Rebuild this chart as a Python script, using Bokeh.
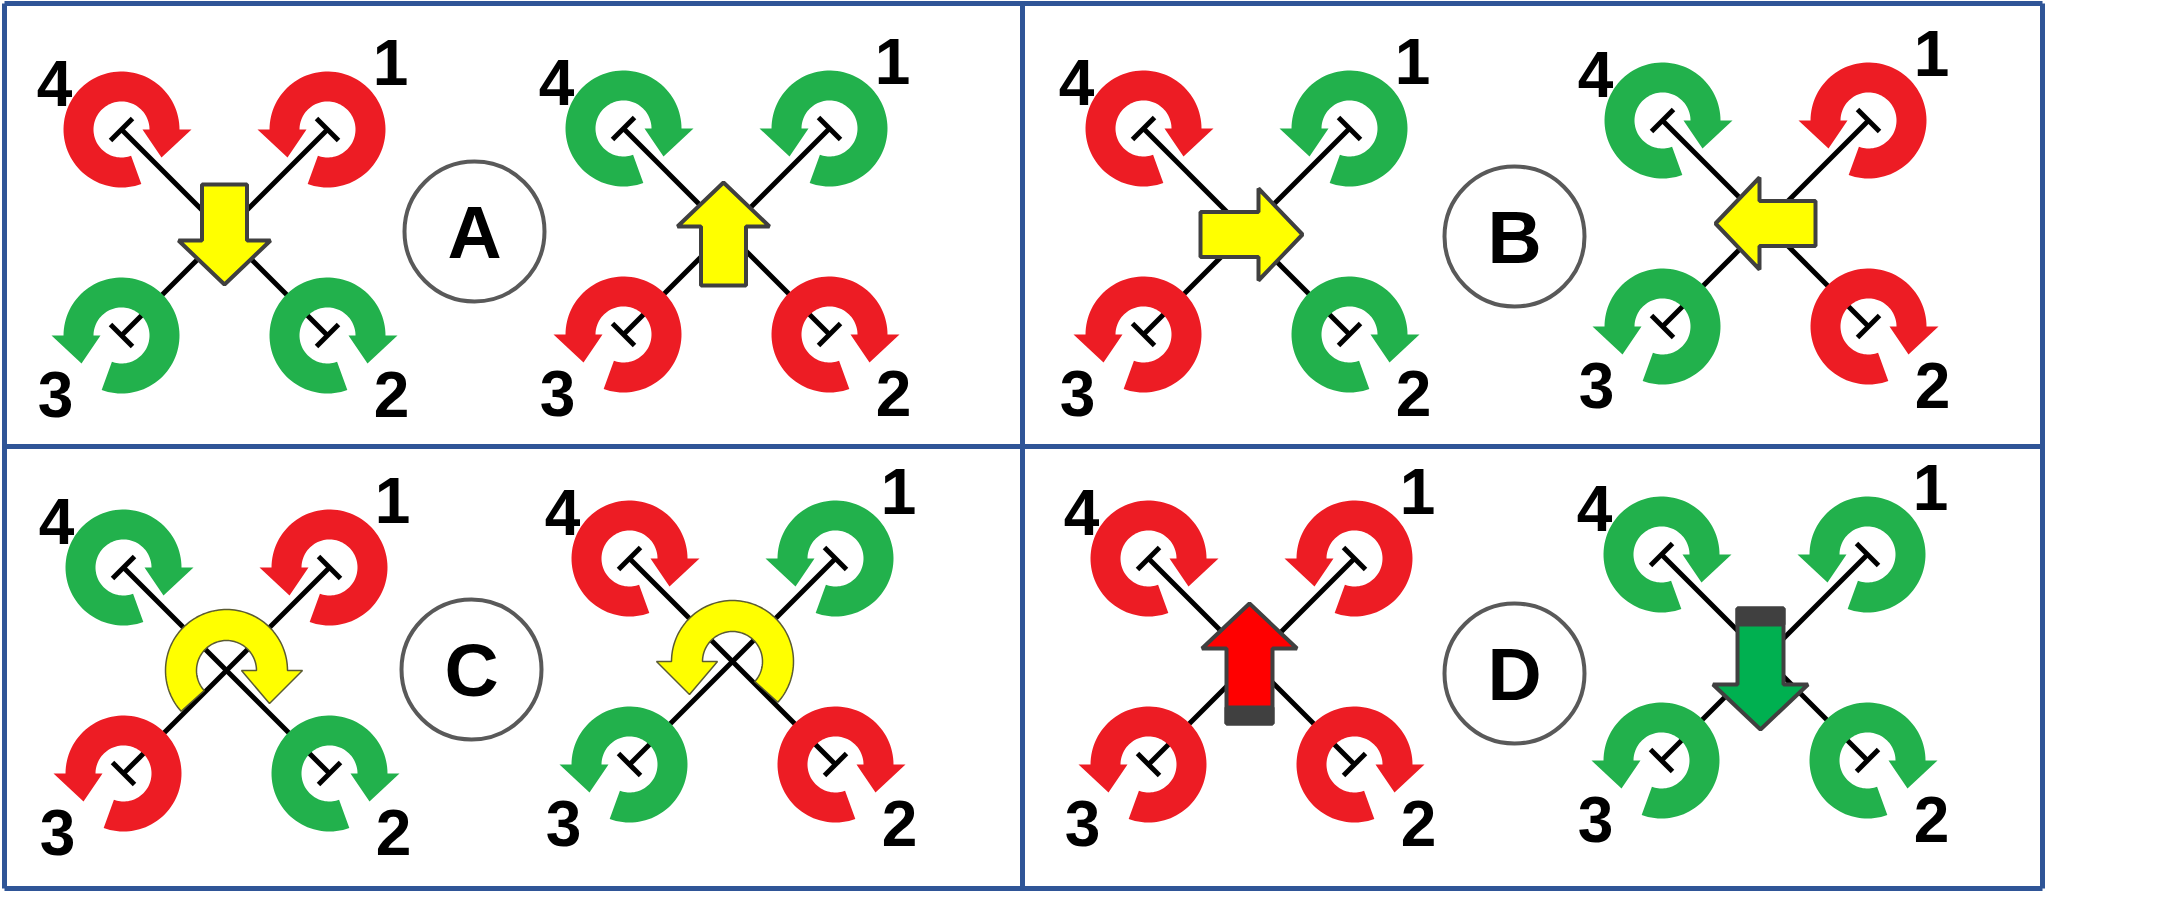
import numpy as np
from bokeh.plotting import figure
from bokeh.models import Range1d
from bokeh.core.properties import value
from bokeh.embed import file_html
from bokeh.resources import INLINE

RED, GREEN, YELLOW = "#ED1C24", "#22B14C", "#FFFF00"
OUTLINE = "#404040"

# the four panels, each with a letter in a circle
panel_letters = ["A", "B", "C", "D"]
letter_x = [476, 1516, 473, 1516]
letter_y = [232, 237, 670, 674]

# the eight quadcopters (two per panel)
quad_x = [226, 728, 1248, 1767, 228, 734, 1253, 1766]
quad_y = [233, 232, 232, 224, 671, 662, 662, 658]

# rotor colours, order rotor 1, 2, 3, 4
rotor_colors = [
    [RED, GREEN, GREEN, RED], [GREEN, RED, RED, GREEN],
    [GREEN, GREEN, RED, RED], [RED, RED, GREEN, GREEN],
    [RED, GREEN, RED, GREEN], [GREEN, RED, GREEN, RED],
    [RED, RED, RED, RED], [GREEN, GREEN, GREEN, GREEN],
]
rotor_names = ["1", "2", "3", "4"]
rotor_spin = ["ccw", "cw", "ccw", "cw"]

# movement arrow in the middle of each quad
quad_move = ["down", "up", "right", "left", "cw", "ccw", "up", "down"]
move_color = [YELLOW] * 6 + ["#FF0000", "#00B050"]

# layout helpers
rotor_dx = [103, 103, -103, -103]
rotor_dy = [-103, 103, 103, -103]
label_dx = [166, 167, -169, -170]
label_dy = [-170, 162, 162, -149]
# tail / tip offsets along the arrow axis, and cross offset
arrow_ends = [(-48, 52, 0), (54, -49, -3), (-46, 56, 3), (50, -50, 0),
              None, None, (62, -58, -2), (-49, 72, -4)]


def curved(cx, cy, r_in, r_out, tail, hb_in, hb_out, tip, mirror):
    t = np.radians(np.linspace(tail, 0, 90))
    xs = list(r_out * np.cos(t)) + [hb_out, tip[0], hb_in] + list(r_in * np.cos(t[::-1]))
    ys = list(r_out * np.sin(t)) + [0, tip[1], 0] + list(r_in * np.sin(t[::-1]))
    sgn = -1 if mirror else 1
    return [cx + sgn * x for x in xs], [cy - y for y in ys]


def straight(cx, cy, tail, tip, cross, horizontal, shaft_w, head_w, head_len):
    d = 1 if tip > tail else -1
    base = tip - d * head_len
    along = [tail, base, base, tip, base, base, tail]
    side = [-shaft_w / 2, -shaft_w / 2, -head_w / 2, 0, head_w / 2, shaft_w / 2, shaft_w / 2]
    if horizontal:
        return [cx + a for a in along], [cy + cross + s for s in side]
    return [cx + cross + s for s in side], [cy + a for a in along]


p = figure(width=2146, height=891, x_range=Range1d(2, 2148), y_range=Range1d(892, 1),
           output_backend="svg", toolbar_location=None, min_border=0)
p.axis.visible = False
p.grid.visible = False
p.outline_line_color = None
p.background_fill_color = "white"

# panel borders
BLUE = "#2F5597"
p.segment(x0=[6, 6, 6, 6, 1024, 2044], y0=[4, 447, 889, 4, 4, 4],
          x1=[2044, 2044, 2044, 6, 1024, 2044], y1=[4, 447, 889, 889, 889, 889],
          line_color=BLUE, line_width=5)

ring_xs, ring_ys, ring_col = [], [], []
arm_x0, arm_y0, arm_x1, arm_y1 = [], [], [], []
lab_x, lab_y, lab_t = [], [], []
for q in range(8):
    cx, cy = quad_x[q], quad_y[q]
    # arms: rotor 4 -> rotor 2 and rotor 1 -> rotor 3
    for a, b in [(3, 1), (0, 2)]:
        arm_x0.append(cx + rotor_dx[a]); arm_y0.append(cy + rotor_dy[a])
        arm_x1.append(cx + rotor_dx[b]); arm_y1.append(cy + rotor_dy[b])
    for k in range(4):
        rx, ry = cx + rotor_dx[k], cy + rotor_dy[k]
        # end caps, perpendicular to the arm
        ux, uy = np.sign(rotor_dx[k]), np.sign(rotor_dy[k])
        arm_x0.append(rx + uy * 11); arm_y0.append(ry - ux * 11)
        arm_x1.append(rx - uy * 11); arm_y1.append(ry + ux * 11)
        xs, ys = curved(rx, ry, 28, 58, 290, 21, 70, (40, -28), rotor_spin[k] == "ccw")
        ring_xs.append(xs); ring_ys.append(ys); ring_col.append(rotor_colors[q][k])
        lab_x.append(cx + label_dx[k]); lab_y.append(cy + label_dy[k]); lab_t.append(rotor_names[k])

p.segment(x0=arm_x0, y0=arm_y0, x1=arm_x1, y1=arm_y1, line_color="black", line_width=5)
p.patches(xs=ring_xs, ys=ring_ys, fill_color=ring_col, line_color=None)

for q in range(8):
    cx, cy = quad_x[q], quad_y[q]
    mv = quad_move[q]
    if mv in ("cw", "ccw"):
        xs, ys = curved(cx, cy, 30, 61, 222, 15, 76, (43, -33), mv == "ccw")
        p.patch(xs, ys, fill_color=move_color[q], line_color="#5b5b33", line_width=1.5)
        continue
    tail, tip, cross = arrow_ends[q]
    horiz = mv in ("left", "right")
    big = q >= 6
    xs, ys = straight(cx, cy, tail, tip, cross, horiz, 46 if big else 45,
                      95 if big else 92, 45 if big else 44)
    p.patch(xs, ys, fill_color=move_color[q], line_color=OUTLINE, line_width=4)
    if big:
        d = 1 if tip > tail else -1
        bx, by = straight(cx, cy, tail, tail + d * 16, cross, False, 46, 46, 0.01)
        p.patch(bx, by, fill_color=OUTLINE, line_color=OUTLINE, line_width=4)

p.text(x=lab_x, y=lab_y, text=lab_t, text_font=value("Liberation Sans"),
       text_font_style="bold", text_font_size="64px", text_align="center",
       text_baseline="middle", text_color="black")

p.circle(x=letter_x, y=letter_y, radius=70, fill_color="white",
         line_color="#595959", line_width=4)
p.text(x=letter_x, y=letter_y, text=panel_letters, text_font=value("Liberation Sans"),
       text_font_style="bold", text_font_size="75px", text_align="center",
       text_baseline="middle", text_color="black")

open("out.html", "w").write(file_html(p, INLINE))
